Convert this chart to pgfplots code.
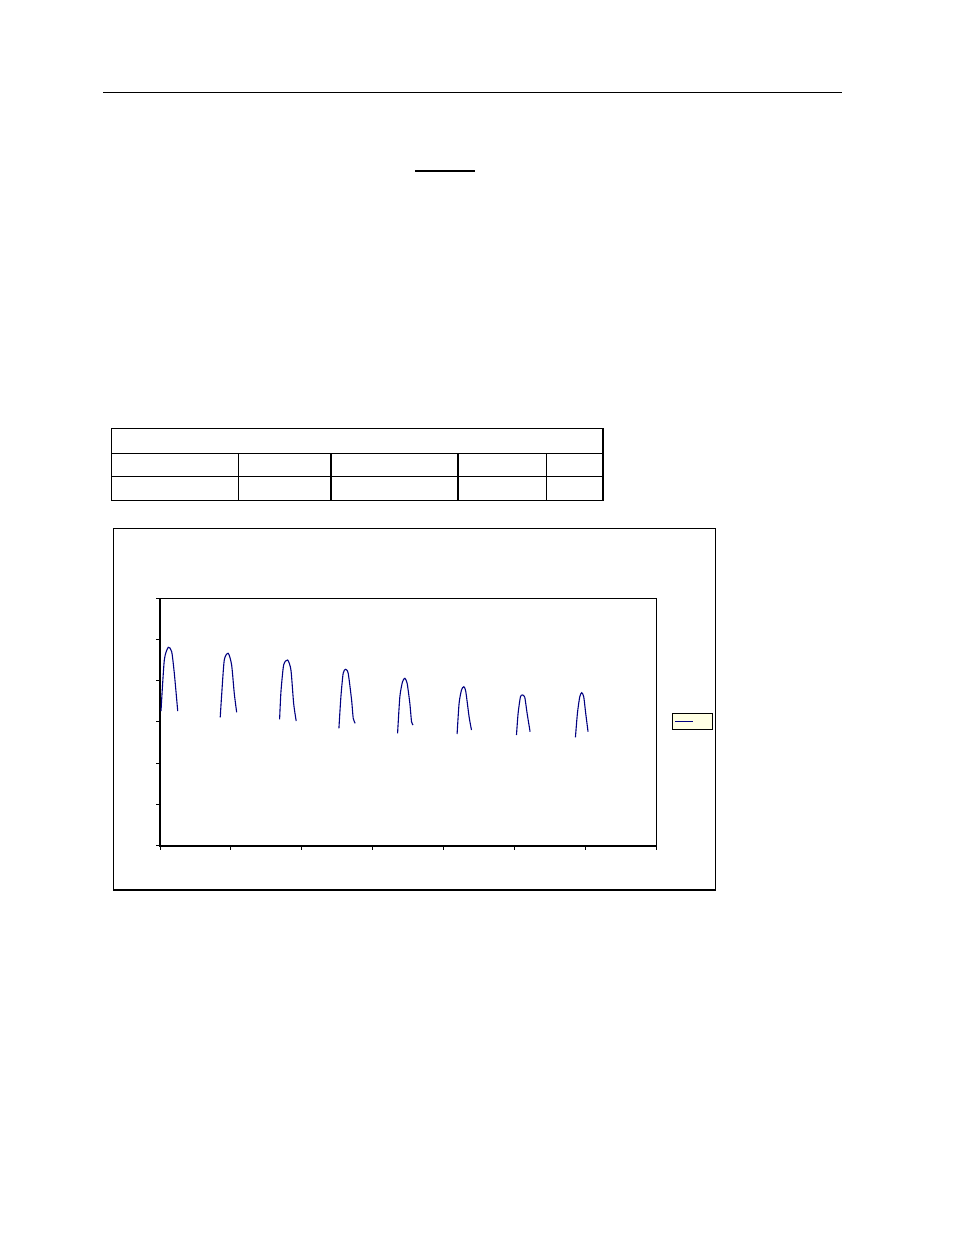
\documentclass[border=0pt]{standalone}
\usepackage{pgfplots}
\pgfplotsset{compat=1.18}
\definecolor{seriesblue}{RGB}{0,0,128}
\definecolor{legfill}{RGB}{255,255,228}

\begin{document}
\begin{tikzpicture}
% page, 1 unit = 1 px of the reference (0.5pt), y going down as -py
\begin{scope}[x=0.5pt,y=0.5pt]
\fill[white] (0,0) rectangle (954,-1235);
\useasboundingbox (0,0) rectangle (954,-1235);

% header rule and underline
\draw[line width=0.6pt] (103,-92.3) -- (842,-92.3);
\draw[line width=0.6pt] (415,-171) -- (475,-171);

% empty table
\draw[line width=0.75pt] (111.6,-428.3) rectangle (603,-500.3);
\draw[line width=0.75pt] (111.6,-453.3) -- (603,-453.3);
\draw[line width=0.75pt] (111.6,-476.3) -- (603,-476.3);
\foreach \cx in {238.7,330.8,457.9,546.7}
  \draw[line width=0.75pt] (\cx,-453.3) -- (\cx,-500.3);

% chart frame
\draw[line width=0.5pt] (113,-528) rectangle (715.5,-889.5);
\draw[line width=1pt] (113,-889.8) -- (716,-889.8);
\end{scope}

\begin{axis}[
  at={(80pt,-422.85pt)}, anchor=origin,
  scale only axis,
  width=248pt, height=123.75pt,
  xmin=0, xmax=7, ymin=0, ymax=6,
  xtick={0,...,7}, ytick={0,...,6},
  xticklabels={}, yticklabels={},
  tick pos=left, tick align=outside,
  major tick length=2pt,
  tick style={black, line width=0.5pt},
  axis line style={black, line width=0.5pt},
  clip=false,
  hump/.style={seriesblue, line width=0.55pt, no markers, smooth, tension=0.4},
]
\draw[line width=1pt] (rel axis cs:0,1) -- (rel axis cs:0,0) -- (rel axis cs:1,0);

\addplot[hump] coordinates {
(0.014,3.265) (0.061,4.502) (0.117,4.810) (0.165,4.703) (0.202,4.179) (0.250,3.265)
};
\addplot[hump] coordinates {
(0.850,3.113) (0.870,3.653) (0.907,4.502) (0.963,4.664) (1.011,4.381) (1.048,3.695) (1.082,3.234)
};
\addplot[hump] coordinates {
(1.688,3.064) (1.707,3.733) (1.745,4.381) (1.801,4.502) (1.848,4.259) (1.886,3.452) (1.922,3.023)
};
\addplot[hump] coordinates {
(2.525,2.846) (2.553,3.612) (2.585,4.179) (2.619,4.276) (2.656,4.179) (2.704,3.532) (2.727,3.088) (2.755,2.967)
};
\addplot[hump] coordinates {
(3.353,2.725) (3.385,3.612) (3.423,3.976) (3.456,4.058) (3.488,3.937) (3.526,3.452) (3.550,3.006) (3.573,2.926)
};
\addplot[hump] coordinates {
(4.193,2.708) (4.221,3.452) (4.255,3.775) (4.288,3.855) (4.316,3.733) (4.362,3.127) (4.396,2.805)
};
\addplot[hump] coordinates {
(5.031,2.684) (5.054,3.210) (5.087,3.612) (5.116,3.653) (5.148,3.598) (5.181,3.210) (5.223,2.764)
};
\addplot[hump] coordinates {
(5.863,2.628) (5.891,3.210) (5.924,3.612) (5.952,3.709) (5.980,3.612) (6.008,3.210) (6.041,2.764)
};
\end{axis}

% legend box (entry without text)
\begin{scope}[x=0.5pt,y=0.5pt]
\draw[line width=0.5pt, fill=legfill] (672.3,-713.3) rectangle (712.3,-729.3);
\draw[seriesblue, line width=0.55pt] (675,-721.3) -- (692.7,-721.3);
\end{scope}
\end{tikzpicture}
\end{document}
